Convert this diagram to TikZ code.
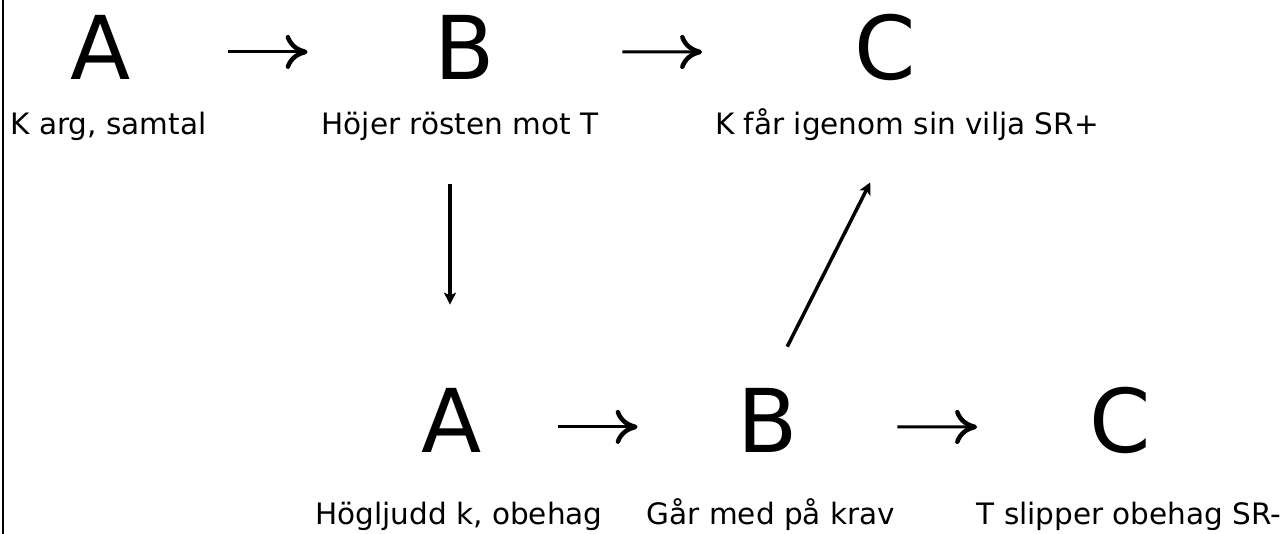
\documentclass[tikz,border=0pt]{standalone}
\usepackage{fontspec}
\setmainfont{DejaVu Sans}
\usetikzlibrary{arrows.meta}
\tikzset{
  big/.style={inner sep=0pt, anchor=base, font=\fontsize{88}{88}\selectfont},
  lbl/.style={inner sep=0pt, anchor=base, font=\fontsize{29.5}{32}\selectfont},
  harrow/.style={line width=3pt, -{Computer Modern Rightarrow[length=22pt,width=34pt,line width=4.5pt]}},
  sarrow/.style={line width=3.5pt, -{Stealth[length=12pt,width=12pt,inset=3pt]}}
}
\begin{document}
\begin{tikzpicture}[x=1pt,y=-1pt]
\useasboundingbox (0,0) rectangle (1286,534);
\draw[line width=1.5pt] (3,0) -- (3,534);
% top row
\node[big] (A1) at (101,80) {A};
\node[big] (B1) at (465,80) {B};
\node[big] (C1) at (885,80) {C};
\node[lbl] (la1) at (108.5,135) {K arg, samtal};
\node[lbl] (lb1) at (460,135) {Höjer rösten mot T};
\node[lbl] (lc1) at (907,135) {K får igenom sin vilja SR+};
% bottom row
\node[big] (A2) at (452,453) {A};
\node[big] (B2) at (768,453) {B};
\node[big] (C2) at (1120,453) {C};
\node[lbl] (la2) at (459,525) {Högljudd k, obehag};
\node[lbl] (lb2) at (771,525) {Går med på krav};
\node[lbl] (lc2) at (1129,525) {T slipper obehag SR-};
% horizontal arrows
\draw[harrow, shorten <=97pt, shorten >=127pt] ([yshift=-4pt]A1.east) -- ([yshift=-4pt]B1.west);
\draw[harrow, shorten <=127pt, shorten >=152pt] ([yshift=-4pt]B1.east) -- ([yshift=-4pt]C1.west);
\draw[harrow, shorten <=76pt, shorten >=100pt] ([yshift=-6pt]A2.east) -- ([yshift=-6pt]B2.west);
\draw[harrow, shorten <=99pt, shorten >=112pt] ([yshift=-6pt]B2.east) -- ([yshift=-6pt]C2.west);
% vertical and diagonal
\draw[sarrow, shorten <=43pt, shorten >=84pt] ([xshift=-10pt]lb1.south) -- ([xshift=-2pt]A2.north);
\draw[sarrow, shorten <=47pt, shorten >=46pt] ([xshift=-2pt]B2.north) -- ([xshift=-16pt]lc1.south);
\end{tikzpicture}
\end{document}
